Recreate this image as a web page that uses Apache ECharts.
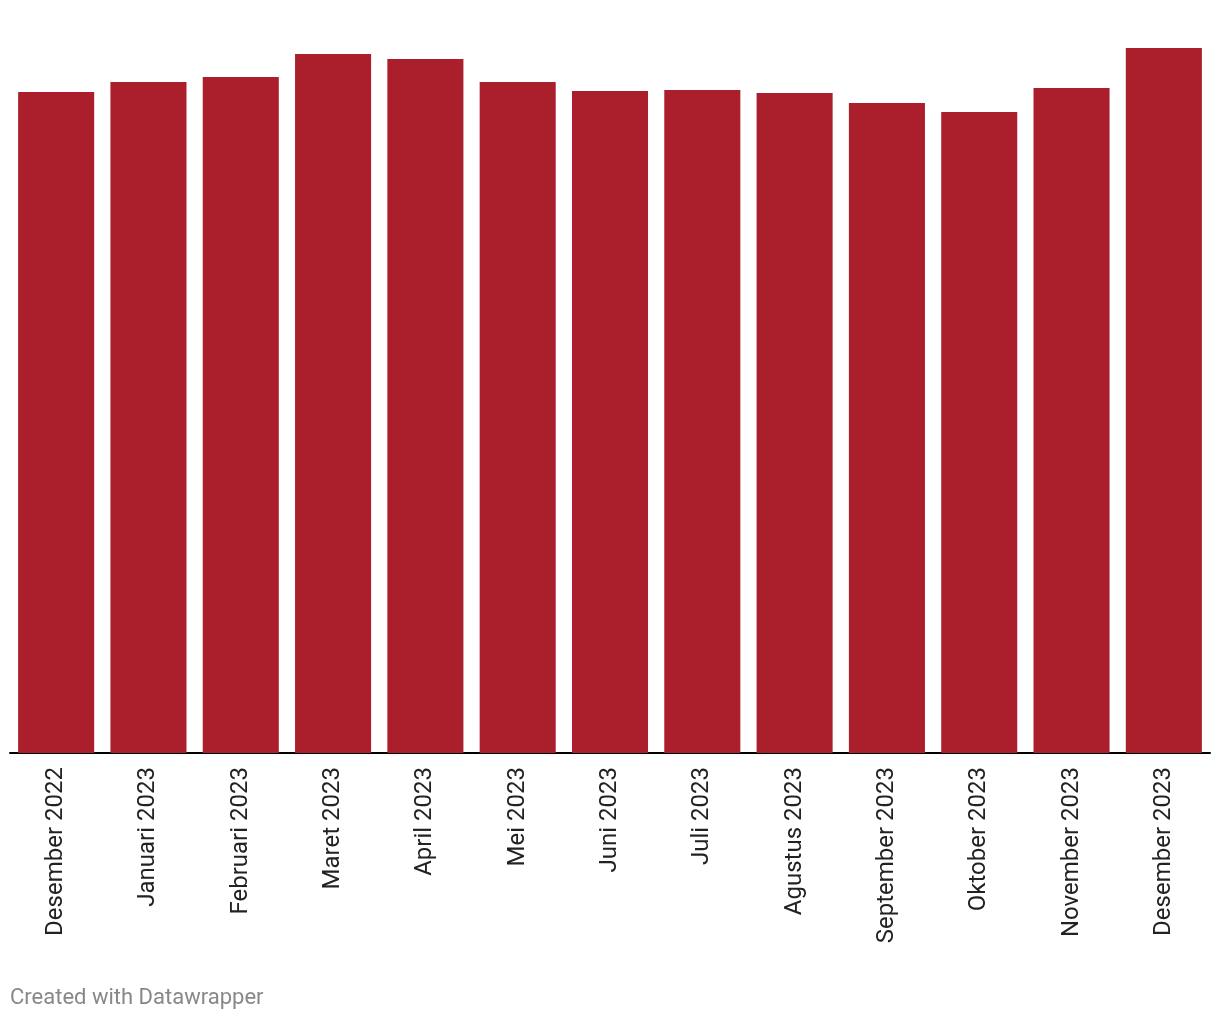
<!DOCTYPE html>
<html>
<head>
<meta charset="utf-8">
<script src="https://cdn.jsdelivr.net/npm/echarts@6/dist/echarts.min.js"></script>
<style>
html,body{margin:0;padding:0;background:#fff;}
#chart{width:1220px;height:1020px;}
</style>
</head>
<body>
<div id="chart"></div>
<script>
const categories = ["Desember 2022","Januari 2023","Februari 2023","Maret 2023","April 2023","Mei 2023","Juni 2023","Juli 2023","Agustus 2023","September 2023","Oktober 2023","November 2023","Desember 2023"];
const values = [661, 671, 676, 699, 694, 671, 662, 663, 660, 650, 641, 665, 705];
const yMax = 705;

const chart = echarts.init(document.getElementById('chart'));
chart.setOption({
  animation: false,
  grid: { left: 10, right: 10, top: 48, bottom: 267, containLabel: false },
  xAxis: {
    type: 'category',
    data: categories,
    axisLine: { lineStyle: { color: '#000', width: 2 } },
    axisTick: { show: false },
    axisLabel: {
      rotate: 90, interval: 0, margin: 14,
      fontFamily: 'Roboto', fontSize: 24, color: '#222'
    }
  },
  yAxis: {
    type: 'value', min: 0, max: yMax,
    show: false, splitLine: { show: false }
  },
  series: [{
    type: 'bar',
    data: values,
    barCategoryGap: '17.6%',
    itemStyle: { color: '#aa1f2b' }
  }],
  graphic: [{
    type: 'text', left: 10, top: 987,
    style: { text: 'Created with Datawrapper', fontFamily: 'Roboto', fontSize: 22, fill: '#888' }
  }]
});
</script>
</body>
</html>
